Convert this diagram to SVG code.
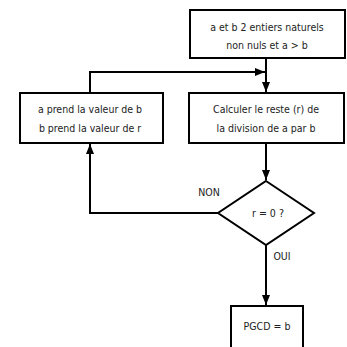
<svg xmlns="http://www.w3.org/2000/svg" width="347" height="347" viewBox="0 0 347 347">
<defs>
<style>
.box{fill:#fff;stroke:#000;stroke-width:2}
.t{font-family:"DejaVu Sans Condensed","DejaVu Sans",sans-serif;font-size:10.5px;fill:#222;text-anchor:middle}
.c{fill:none;stroke:#000;stroke-width:2}
</style>
<marker id="ah" viewBox="0 0 10 8" refX="10" refY="4" markerWidth="10" markerHeight="9" markerUnits="userSpaceOnUse" orient="auto">
<path d="M0,0 L10,4 L0,8 Z" fill="#000"/>
</marker>
</defs>
<rect width="347" height="347" fill="#fff"/>
<g id="connectors">
<path class="c" d="M266,58 V92" marker-end="url(#ah)"/>
<path class="c" d="M90,93 V72 H265" marker-end="url(#ah)"/>
<path class="c" d="M266,143 V180" marker-end="url(#ah)"/>
<path class="c" d="M218,213 H90 V144" marker-end="url(#ah)"/>
<path class="c" d="M266,245 V305" marker-end="url(#ah)"/>
</g>
<g id="start">
<rect class="box" x="190" y="10" width="155" height="48"/>
<text class="t" x="267" y="31">a et b 2 entiers naturels</text>
<text class="t" x="267" y="49">non nuls et a &gt; b</text>
</g>
<g id="compute">
<rect class="box" x="189" y="93" width="155" height="50"/>
<text class="t" x="266" y="113">Calculer le reste (r) de</text>
<text class="t" x="266" y="132">la division de a par b</text>
</g>
<g id="swap">
<rect class="box" x="20" y="93" width="143" height="50"/>
<text class="t" x="90" y="113">a prend la valeur de b</text>
<text class="t" x="90" y="132">b prend la valeur de r</text>
</g>
<g id="test">
<polygon class="box" points="266,181 314,213 266,245 218,213"/>
<text class="t" x="268" y="217">r = 0 ?</text>
</g>
<g id="labels">
<text class="t" x="209" y="196">NON</text>
<text class="t" x="282" y="260">OUI</text>
</g>
<g id="result">
<rect class="box" x="231" y="306" width="72" height="50"/>
<text class="t" x="267" y="330">PGCD = b</text>
</g>
</svg>
